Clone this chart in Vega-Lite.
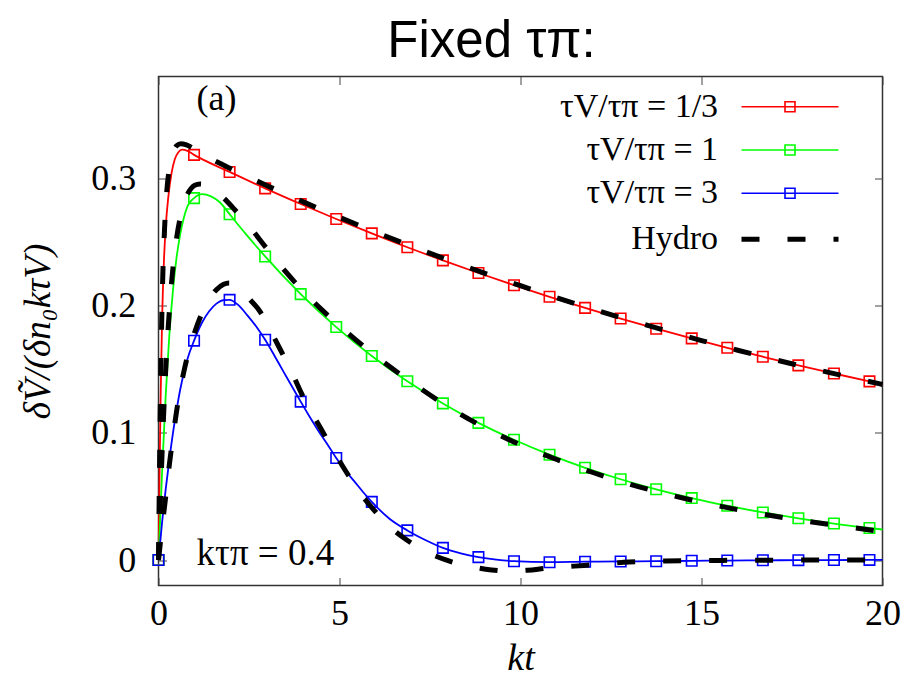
{
  "$schema": "https://vega.github.io/schema/vega-lite/v6.json",
  "width": 724,
  "height": 509,
  "autosize": {"type": "none"},
  "padding": {"left": 158.5, "top": 76.5, "right": 18.5, "bottom": 106.5},
  "title": {"text": "Fixed τπ:", "font": "Liberation Sans", "fontSize": 51, "fontWeight": "normal", "color": "black", "anchor": "middle", "baseline": "alphabetic", "offset": 14, "dx": -29, "dy": 46},
  "config": {
    "view": {"stroke": "#333333", "strokeWidth": 1.5},
    "axis": {"labelFont": "Liberation Serif", "labelFontSize": 36, "labelColor": "black", "titleFont": "Liberation Serif", "titleColor": "black", "titleFontWeight": "normal", "tickColor": "#444444", "tickWidth": 1, "domain": false, "grid": false, "labelFlush": false}
  },
  "datasets": {
    "model": [
      {"series": "τV/τπ = 1/3", "x": 0, "y": 0}, {"series": "τV/τπ = 1/3", "x": 0.03, "y": 0.07}, {"series": "τV/τπ = 1/3", "x": 0.06, "y": 0.13}, {"series": "τV/τπ = 1/3", "x": 0.1, "y": 0.19}, {"series": "τV/τπ = 1/3", "x": 0.15, "y": 0.235}, {"series": "τV/τπ = 1/3", "x": 0.2, "y": 0.262}, {"series": "τV/τπ = 1/3", "x": 0.27, "y": 0.285}, {"series": "τV/τπ = 1/3", "x": 0.36, "y": 0.304}, {"series": "τV/τπ = 1/3", "x": 0.45, "y": 0.315}, {"series": "τV/τπ = 1/3", "x": 0.55, "y": 0.3205}, {"series": "τV/τπ = 1/3", "x": 0.65, "y": 0.3225}, {"series": "τV/τπ = 1/3", "x": 0.8, "y": 0.3215}, {"series": "τV/τπ = 1/3", "x": 0.982, "y": 0.3184}, {"series": "τV/τπ = 1/3", "x": 1.964, "y": 0.305}, {"series": "τV/τπ = 1/3", "x": 2.946, "y": 0.2921}, {"series": "τV/τπ = 1/3", "x": 3.928, "y": 0.2798}, {"series": "τV/τπ = 1/3", "x": 4.91, "y": 0.268}, {"series": "τV/τπ = 1/3", "x": 5.892, "y": 0.2567}, {"series": "τV/τπ = 1/3", "x": 6.874, "y": 0.2458}, {"series": "τV/τπ = 1/3", "x": 7.856, "y": 0.2355}, {"series": "τV/τπ = 1/3", "x": 8.838, "y": 0.2256}, {"series": "τV/τπ = 1/3", "x": 9.82, "y": 0.216}, {"series": "τV/τπ = 1/3", "x": 10.802, "y": 0.2069}, {"series": "τV/τπ = 1/3", "x": 11.784, "y": 0.1982}, {"series": "τV/τπ = 1/3", "x": 12.766, "y": 0.1898}, {"series": "τV/τπ = 1/3", "x": 13.748, "y": 0.1818}, {"series": "τV/τπ = 1/3", "x": 14.73, "y": 0.1742}, {"series": "τV/τπ = 1/3", "x": 15.712, "y": 0.1668}, {"series": "τV/τπ = 1/3", "x": 16.694, "y": 0.1598}, {"series": "τV/τπ = 1/3", "x": 17.676, "y": 0.153}, {"series": "τV/τπ = 1/3", "x": 18.658, "y": 0.1466}, {"series": "τV/τπ = 1/3", "x": 19.64, "y": 0.1404}, {"series": "τV/τπ = 1/3", "x": 20, "y": 0.1382},
      {"series": "τV/τπ = 1", "x": 0, "y": 0}, {"series": "τV/τπ = 1", "x": 0.1, "y": 0.07}, {"series": "τV/τπ = 1", "x": 0.2, "y": 0.13}, {"series": "τV/τπ = 1", "x": 0.3, "y": 0.177}, {"series": "τV/τπ = 1", "x": 0.4, "y": 0.212}, {"series": "τV/τπ = 1", "x": 0.5, "y": 0.238}, {"series": "τV/τπ = 1", "x": 0.6, "y": 0.256}, {"series": "τV/τπ = 1", "x": 0.7, "y": 0.269}, {"series": "τV/τπ = 1", "x": 0.8, "y": 0.278}, {"series": "τV/τπ = 1", "x": 0.982, "y": 0.2844}, {"series": "τV/τπ = 1", "x": 1.2, "y": 0.2875}, {"series": "τV/τπ = 1", "x": 1.45, "y": 0.2858}, {"series": "τV/τπ = 1", "x": 1.7, "y": 0.281}, {"series": "τV/τπ = 1", "x": 1.964, "y": 0.2718}, {"series": "τV/τπ = 1", "x": 2.2, "y": 0.2635}, {"series": "τV/τπ = 1", "x": 2.45, "y": 0.2549}, {"series": "τV/τπ = 1", "x": 2.7, "y": 0.2466}, {"series": "τV/τπ = 1", "x": 2.946, "y": 0.2386}, {"series": "τV/τπ = 1", "x": 3.928, "y": 0.209}, {"series": "τV/τπ = 1", "x": 4.91, "y": 0.1831}, {"series": "τV/τπ = 1", "x": 5.892, "y": 0.1604}, {"series": "τV/τπ = 1", "x": 6.874, "y": 0.1405}, {"series": "τV/τπ = 1", "x": 7.856, "y": 0.1231}, {"series": "τV/τπ = 1", "x": 8.838, "y": 0.1078}, {"series": "τV/τπ = 1", "x": 9.82, "y": 0.0945}, {"series": "τV/τπ = 1", "x": 10.802, "y": 0.0828}, {"series": "τV/τπ = 1", "x": 11.784, "y": 0.0725}, {"series": "τV/τπ = 1", "x": 12.766, "y": 0.0635}, {"series": "τV/τπ = 1", "x": 13.748, "y": 0.0556}, {"series": "τV/τπ = 1", "x": 14.73, "y": 0.0487}, {"series": "τV/τπ = 1", "x": 15.712, "y": 0.0427}, {"series": "τV/τπ = 1", "x": 16.694, "y": 0.0374}, {"series": "τV/τπ = 1", "x": 17.676, "y": 0.0328}, {"series": "τV/τπ = 1", "x": 18.658, "y": 0.0287}, {"series": "τV/τπ = 1", "x": 19.64, "y": 0.0252}, {"series": "τV/τπ = 1", "x": 20, "y": 0.024},
      {"series": "τV/τπ = 3", "x": 0, "y": 0}, {"series": "τV/τπ = 3", "x": 0.1, "y": 0.03}, {"series": "τV/τπ = 3", "x": 0.2, "y": 0.056}, {"series": "τV/τπ = 3", "x": 0.3, "y": 0.079}, {"series": "τV/τπ = 3", "x": 0.4, "y": 0.1}, {"series": "τV/τπ = 3", "x": 0.5, "y": 0.118}, {"series": "τV/τπ = 3", "x": 0.6, "y": 0.134}, {"series": "τV/τπ = 3", "x": 0.7, "y": 0.147}, {"series": "τV/τπ = 3", "x": 0.8, "y": 0.158}, {"series": "τV/τπ = 3", "x": 0.982, "y": 0.1724}, {"series": "τV/τπ = 3", "x": 1.2, "y": 0.1865}, {"series": "τV/τπ = 3", "x": 1.4, "y": 0.1955}, {"series": "τV/τπ = 3", "x": 1.6, "y": 0.2015}, {"series": "τV/τπ = 3", "x": 1.8, "y": 0.2043}, {"series": "τV/τπ = 3", "x": 1.964, "y": 0.2045}, {"series": "τV/τπ = 3", "x": 2.2, "y": 0.2005}, {"series": "τV/τπ = 3", "x": 2.45, "y": 0.1925}, {"series": "τV/τπ = 3", "x": 2.7, "y": 0.1835}, {"series": "τV/τπ = 3", "x": 2.946, "y": 0.1731}, {"series": "τV/τπ = 3", "x": 3.2, "y": 0.1608}, {"series": "τV/τπ = 3", "x": 3.44, "y": 0.1487}, {"series": "τV/τπ = 3", "x": 3.7, "y": 0.1358}, {"series": "τV/τπ = 3", "x": 3.928, "y": 0.1245}, {"series": "τV/τπ = 3", "x": 4.2, "y": 0.1115}, {"series": "τV/τπ = 3", "x": 4.41, "y": 0.1018}, {"series": "τV/τπ = 3", "x": 4.7, "y": 0.0895}, {"series": "τV/τπ = 3", "x": 4.91, "y": 0.0802}, {"series": "τV/τπ = 3", "x": 5.2, "y": 0.069}, {"series": "τV/τπ = 3", "x": 5.4, "y": 0.0622}, {"series": "τV/τπ = 3", "x": 5.65, "y": 0.0535}, {"series": "τV/τπ = 3", "x": 5.892, "y": 0.0457}, {"series": "τV/τπ = 3", "x": 6.38, "y": 0.0325}, {"series": "τV/τπ = 3", "x": 6.874, "y": 0.0233}, {"series": "τV/τπ = 3", "x": 7.37, "y": 0.0158}, {"series": "τV/τπ = 3", "x": 7.856, "y": 0.0096}, {"series": "τV/τπ = 3", "x": 8.35, "y": 0.0053}, {"series": "τV/τπ = 3", "x": 8.838, "y": 0.0023}, {"series": "τV/τπ = 3", "x": 9.33, "y": 0.0003}, {"series": "τV/τπ = 3", "x": 9.82, "y": -0.0009}, {"series": "τV/τπ = 3", "x": 10.802, "y": -0.0017}, {"series": "τV/τπ = 3", "x": 11.784, "y": -0.0013}, {"series": "τV/τπ = 3", "x": 12.766, "y": -0.0011}, {"series": "τV/τπ = 3", "x": 13.748, "y": -0.0009}, {"series": "τV/τπ = 3", "x": 14.73, "y": -0.0006}, {"series": "τV/τπ = 3", "x": 15.712, "y": -0.0004}, {"series": "τV/τπ = 3", "x": 16.694, "y": -0.0002}, {"series": "τV/τπ = 3", "x": 17.676, "y": -0.0001}, {"series": "τV/τπ = 3", "x": 18.658, "y": 0}, {"series": "τV/τπ = 3", "x": 19.64, "y": 0.0001}, {"series": "τV/τπ = 3", "x": 20, "y": 0.0001}
    ],
    "markers": [
      {"series": "τV/τπ = 1/3", "x": 0, "y": 0}, {"series": "τV/τπ = 1/3", "x": 0.982, "y": 0.3184}, {"series": "τV/τπ = 1/3", "x": 1.964, "y": 0.305}, {"series": "τV/τπ = 1/3", "x": 2.946, "y": 0.2921}, {"series": "τV/τπ = 1/3", "x": 3.928, "y": 0.2798}, {"series": "τV/τπ = 1/3", "x": 4.91, "y": 0.268}, {"series": "τV/τπ = 1/3", "x": 5.892, "y": 0.2567}, {"series": "τV/τπ = 1/3", "x": 6.874, "y": 0.2458}, {"series": "τV/τπ = 1/3", "x": 7.856, "y": 0.2355}, {"series": "τV/τπ = 1/3", "x": 8.838, "y": 0.2256}, {"series": "τV/τπ = 1/3", "x": 9.82, "y": 0.216}, {"series": "τV/τπ = 1/3", "x": 10.802, "y": 0.2069}, {"series": "τV/τπ = 1/3", "x": 11.784, "y": 0.1982}, {"series": "τV/τπ = 1/3", "x": 12.766, "y": 0.1898}, {"series": "τV/τπ = 1/3", "x": 13.748, "y": 0.1818}, {"series": "τV/τπ = 1/3", "x": 14.73, "y": 0.1742}, {"series": "τV/τπ = 1/3", "x": 15.712, "y": 0.1668}, {"series": "τV/τπ = 1/3", "x": 16.694, "y": 0.1598}, {"series": "τV/τπ = 1/3", "x": 17.676, "y": 0.153}, {"series": "τV/τπ = 1/3", "x": 18.658, "y": 0.1466}, {"series": "τV/τπ = 1/3", "x": 19.64, "y": 0.1404},
      {"series": "τV/τπ = 1", "x": 0, "y": 0}, {"series": "τV/τπ = 1", "x": 0.982, "y": 0.2844}, {"series": "τV/τπ = 1", "x": 1.964, "y": 0.2718}, {"series": "τV/τπ = 1", "x": 2.946, "y": 0.2386}, {"series": "τV/τπ = 1", "x": 3.928, "y": 0.209}, {"series": "τV/τπ = 1", "x": 4.91, "y": 0.1831}, {"series": "τV/τπ = 1", "x": 5.892, "y": 0.1604}, {"series": "τV/τπ = 1", "x": 6.874, "y": 0.1405}, {"series": "τV/τπ = 1", "x": 7.856, "y": 0.1231}, {"series": "τV/τπ = 1", "x": 8.838, "y": 0.1078}, {"series": "τV/τπ = 1", "x": 9.82, "y": 0.0945}, {"series": "τV/τπ = 1", "x": 10.802, "y": 0.0828}, {"series": "τV/τπ = 1", "x": 11.784, "y": 0.0725}, {"series": "τV/τπ = 1", "x": 12.766, "y": 0.0635}, {"series": "τV/τπ = 1", "x": 13.748, "y": 0.0556}, {"series": "τV/τπ = 1", "x": 14.73, "y": 0.0487}, {"series": "τV/τπ = 1", "x": 15.712, "y": 0.0427}, {"series": "τV/τπ = 1", "x": 16.694, "y": 0.0374}, {"series": "τV/τπ = 1", "x": 17.676, "y": 0.0328}, {"series": "τV/τπ = 1", "x": 18.658, "y": 0.0287}, {"series": "τV/τπ = 1", "x": 19.64, "y": 0.0252},
      {"series": "τV/τπ = 3", "x": 0, "y": 0}, {"series": "τV/τπ = 3", "x": 0.982, "y": 0.1724}, {"series": "τV/τπ = 3", "x": 1.964, "y": 0.2045}, {"series": "τV/τπ = 3", "x": 2.946, "y": 0.1731}, {"series": "τV/τπ = 3", "x": 3.928, "y": 0.1245}, {"series": "τV/τπ = 3", "x": 4.91, "y": 0.0802}, {"series": "τV/τπ = 3", "x": 5.892, "y": 0.0457}, {"series": "τV/τπ = 3", "x": 6.874, "y": 0.0233}, {"series": "τV/τπ = 3", "x": 7.856, "y": 0.0096}, {"series": "τV/τπ = 3", "x": 8.838, "y": 0.0023}, {"series": "τV/τπ = 3", "x": 9.82, "y": -0.0009}, {"series": "τV/τπ = 3", "x": 10.802, "y": -0.0017}, {"series": "τV/τπ = 3", "x": 11.784, "y": -0.0013}, {"series": "τV/τπ = 3", "x": 12.766, "y": -0.0011}, {"series": "τV/τπ = 3", "x": 13.748, "y": -0.0009}, {"series": "τV/τπ = 3", "x": 14.73, "y": -0.0006}, {"series": "τV/τπ = 3", "x": 15.712, "y": -0.0004}, {"series": "τV/τπ = 3", "x": 16.694, "y": -0.0002}, {"series": "τV/τπ = 3", "x": 17.676, "y": -0.0001}, {"series": "τV/τπ = 3", "x": 18.658, "y": 0}, {"series": "τV/τπ = 3", "x": 19.64, "y": 0.0001}
    ],
    "hydro": [
      {"kind": "Hydro", "curve": "a", "x": 0, "y": 0}, {"kind": "Hydro", "curve": "a", "x": 0.04, "y": 0.1}, {"kind": "Hydro", "curve": "a", "x": 0.08, "y": 0.175}, {"kind": "Hydro", "curve": "a", "x": 0.12, "y": 0.225}, {"kind": "Hydro", "curve": "a", "x": 0.17, "y": 0.262}, {"kind": "Hydro", "curve": "a", "x": 0.23, "y": 0.29}, {"kind": "Hydro", "curve": "a", "x": 0.3, "y": 0.308}, {"kind": "Hydro", "curve": "a", "x": 0.4, "y": 0.32}, {"kind": "Hydro", "curve": "a", "x": 0.5, "y": 0.3255}, {"kind": "Hydro", "curve": "a", "x": 0.62, "y": 0.3272}, {"kind": "Hydro", "curve": "a", "x": 0.75, "y": 0.3265}, {"kind": "Hydro", "curve": "a", "x": 0.9, "y": 0.3245}, {"kind": "Hydro", "curve": "a", "x": 1.1, "y": 0.3208}, {"kind": "Hydro", "curve": "a", "x": 1.5, "y": 0.3145}, {"kind": "Hydro", "curve": "a", "x": 2, "y": 0.3075}, {"kind": "Hydro", "curve": "a", "x": 3, "y": 0.2942}, {"kind": "Hydro", "curve": "a", "x": 4, "y": 0.2815}, {"kind": "Hydro", "curve": "a", "x": 5, "y": 0.2693}, {"kind": "Hydro", "curve": "a", "x": 6, "y": 0.2577}, {"kind": "Hydro", "curve": "a", "x": 7, "y": 0.2465}, {"kind": "Hydro", "curve": "a", "x": 8, "y": 0.2358}, {"kind": "Hydro", "curve": "a", "x": 9, "y": 0.2255}, {"kind": "Hydro", "curve": "a", "x": 10, "y": 0.2156}, {"kind": "Hydro", "curve": "a", "x": 11, "y": 0.2062}, {"kind": "Hydro", "curve": "a", "x": 12, "y": 0.1972}, {"kind": "Hydro", "curve": "a", "x": 13, "y": 0.1886}, {"kind": "Hydro", "curve": "a", "x": 14, "y": 0.1804}, {"kind": "Hydro", "curve": "a", "x": 15, "y": 0.1725}, {"kind": "Hydro", "curve": "a", "x": 16, "y": 0.1649}, {"kind": "Hydro", "curve": "a", "x": 17, "y": 0.1577}, {"kind": "Hydro", "curve": "a", "x": 18, "y": 0.1508}, {"kind": "Hydro", "curve": "a", "x": 19, "y": 0.1443}, {"kind": "Hydro", "curve": "a", "x": 20, "y": 0.138},
      {"kind": "Hydro", "curve": "b", "x": 0, "y": 0}, {"kind": "Hydro", "curve": "b", "x": 0.1, "y": 0.085}, {"kind": "Hydro", "curve": "b", "x": 0.2, "y": 0.15}, {"kind": "Hydro", "curve": "b", "x": 0.3, "y": 0.196}, {"kind": "Hydro", "curve": "b", "x": 0.4, "y": 0.23}, {"kind": "Hydro", "curve": "b", "x": 0.5, "y": 0.253}, {"kind": "Hydro", "curve": "b", "x": 0.6, "y": 0.269}, {"kind": "Hydro", "curve": "b", "x": 0.7, "y": 0.28}, {"kind": "Hydro", "curve": "b", "x": 0.8, "y": 0.2875}, {"kind": "Hydro", "curve": "b", "x": 0.9, "y": 0.292}, {"kind": "Hydro", "curve": "b", "x": 1.0, "y": 0.2945}, {"kind": "Hydro", "curve": "b", "x": 1.15, "y": 0.2955}, {"kind": "Hydro", "curve": "b", "x": 1.3, "y": 0.2948}, {"kind": "Hydro", "curve": "b", "x": 1.5, "y": 0.2915}, {"kind": "Hydro", "curve": "b", "x": 1.8, "y": 0.2845}, {"kind": "Hydro", "curve": "b", "x": 2.1, "y": 0.2755}, {"kind": "Hydro", "curve": "b", "x": 2.5, "y": 0.2625}, {"kind": "Hydro", "curve": "b", "x": 3, "y": 0.2445}, {"kind": "Hydro", "curve": "b", "x": 3.5, "y": 0.227}, {"kind": "Hydro", "curve": "b", "x": 4, "y": 0.2112}, {"kind": "Hydro", "curve": "b", "x": 4.5, "y": 0.197}, {"kind": "Hydro", "curve": "b", "x": 5, "y": 0.1842}, {"kind": "Hydro", "curve": "b", "x": 6, "y": 0.1603}, {"kind": "Hydro", "curve": "b", "x": 7, "y": 0.1395}, {"kind": "Hydro", "curve": "b", "x": 8, "y": 0.1205}, {"kind": "Hydro", "curve": "b", "x": 9, "y": 0.1042}, {"kind": "Hydro", "curve": "b", "x": 10, "y": 0.0905}, {"kind": "Hydro", "curve": "b", "x": 11, "y": 0.079}, {"kind": "Hydro", "curve": "b", "x": 12, "y": 0.0688}, {"kind": "Hydro", "curve": "b", "x": 13, "y": 0.0598}, {"kind": "Hydro", "curve": "b", "x": 14, "y": 0.0521}, {"kind": "Hydro", "curve": "b", "x": 15, "y": 0.0454}, {"kind": "Hydro", "curve": "b", "x": 16, "y": 0.0396}, {"kind": "Hydro", "curve": "b", "x": 17, "y": 0.0346}, {"kind": "Hydro", "curve": "b", "x": 18, "y": 0.0302}, {"kind": "Hydro", "curve": "b", "x": 19, "y": 0.0262}, {"kind": "Hydro", "curve": "b", "x": 20, "y": 0.0223},
      {"kind": "Hydro", "curve": "c", "x": 0, "y": 0}, {"kind": "Hydro", "curve": "c", "x": 0.1, "y": 0.026}, {"kind": "Hydro", "curve": "c", "x": 0.2, "y": 0.05}, {"kind": "Hydro", "curve": "c", "x": 0.3, "y": 0.075}, {"kind": "Hydro", "curve": "c", "x": 0.4, "y": 0.097}, {"kind": "Hydro", "curve": "c", "x": 0.5, "y": 0.117}, {"kind": "Hydro", "curve": "c", "x": 0.6, "y": 0.134}, {"kind": "Hydro", "curve": "c", "x": 0.7, "y": 0.148}, {"kind": "Hydro", "curve": "c", "x": 0.8, "y": 0.16}, {"kind": "Hydro", "curve": "c", "x": 0.9, "y": 0.17}, {"kind": "Hydro", "curve": "c", "x": 1.0, "y": 0.179}, {"kind": "Hydro", "curve": "c", "x": 1.2, "y": 0.194}, {"kind": "Hydro", "curve": "c", "x": 1.4, "y": 0.205}, {"kind": "Hydro", "curve": "c", "x": 1.6, "y": 0.2125}, {"kind": "Hydro", "curve": "c", "x": 1.8, "y": 0.2168}, {"kind": "Hydro", "curve": "c", "x": 1.95, "y": 0.2178}, {"kind": "Hydro", "curve": "c", "x": 2.1, "y": 0.2168}, {"kind": "Hydro", "curve": "c", "x": 2.3, "y": 0.2125}, {"kind": "Hydro", "curve": "c", "x": 2.5, "y": 0.2055}, {"kind": "Hydro", "curve": "c", "x": 2.75, "y": 0.1975}, {"kind": "Hydro", "curve": "c", "x": 3.0, "y": 0.186}, {"kind": "Hydro", "curve": "c", "x": 3.2, "y": 0.1745}, {"kind": "Hydro", "curve": "c", "x": 3.4, "y": 0.1635}, {"kind": "Hydro", "curve": "c", "x": 3.7, "y": 0.1465}, {"kind": "Hydro", "curve": "c", "x": 3.95, "y": 0.131}, {"kind": "Hydro", "curve": "c", "x": 4.2, "y": 0.1175}, {"kind": "Hydro", "curve": "c", "x": 4.5, "y": 0.1025}, {"kind": "Hydro", "curve": "c", "x": 4.8, "y": 0.0875}, {"kind": "Hydro", "curve": "c", "x": 5.17, "y": 0.07}, {"kind": "Hydro", "curve": "c", "x": 5.5, "y": 0.0555}, {"kind": "Hydro", "curve": "c", "x": 5.9, "y": 0.041}, {"kind": "Hydro", "curve": "c", "x": 6.3, "y": 0.0285}, {"kind": "Hydro", "curve": "c", "x": 6.85, "y": 0.016}, {"kind": "Hydro", "curve": "c", "x": 7.4, "y": 0.0065}, {"kind": "Hydro", "curve": "c", "x": 8.0, "y": -0.0005}, {"kind": "Hydro", "curve": "c", "x": 8.6, "y": -0.005}, {"kind": "Hydro", "curve": "c", "x": 9.2, "y": -0.0078}, {"kind": "Hydro", "curve": "c", "x": 9.7, "y": -0.0088}, {"kind": "Hydro", "curve": "c", "x": 10.2, "y": -0.008}, {"kind": "Hydro", "curve": "c", "x": 10.7, "y": -0.0065}, {"kind": "Hydro", "curve": "c", "x": 11.2, "y": -0.0053}, {"kind": "Hydro", "curve": "c", "x": 11.75, "y": -0.0043}, {"kind": "Hydro", "curve": "c", "x": 12.4, "y": -0.0028}, {"kind": "Hydro", "curve": "c", "x": 13.0, "y": -0.0016}, {"kind": "Hydro", "curve": "c", "x": 14.0, "y": -0.0008}, {"kind": "Hydro", "curve": "c", "x": 15.0, "y": -0.0004}, {"kind": "Hydro", "curve": "c", "x": 16.0, "y": -0.0002}, {"kind": "Hydro", "curve": "c", "x": 17.0, "y": -0.0001}, {"kind": "Hydro", "curve": "c", "x": 18.0, "y": 0}, {"kind": "Hydro", "curve": "c", "x": 19.0, "y": 0.0001}, {"kind": "Hydro", "curve": "c", "x": 20.0, "y": 0.0001}
    ]
  },
  "resolve": {"axis": {"x": "independent", "y": "independent"}},
  "layer": [
    {
      "data": {"name": "model"},
      "mark": {"type": "line", "strokeWidth": 1.8, "interpolate": "monotone"},
      "encoding": {
        "x": {"field": "x", "type": "quantitative", "scale": {"domain": [0, 20], "nice": false, "zero": false},
              "axis": {"orient": "bottom", "values": [0, 5, 10, 15, 20], "title": "kt", "titleFontSize": 38, "titleFontStyle": "italic", "tickSize": -8, "labelPadding": 19, "titlePadding": 8}},
        "y": {"field": "y", "type": "quantitative", "scale": {"domain": [-0.02, 0.38], "nice": false, "zero": false},
              "axis": {"orient": "left", "values": [0, 0.1, 0.2, 0.3], "format": "~g", "title": "δṼ/(δn₀kτV)", "titleFontSize": 37, "titleFontStyle": "italic", "tickSize": -8, "labelPadding": 30.7, "titlePadding": 33}},
        "color": {"field": "series", "type": "nominal",
                  "scale": {"domain": ["τV/τπ = 1/3", "τV/τπ = 1", "τV/τπ = 3"], "range": ["#ff0000", "#00ff00", "#0000ff"]},
                  "legend": {"orient": "none", "legendX": 613.5, "legendY": 12.2, "title": null, "padding": 0,
                             "symbolType": "M-2.853,0H2.853M-0.294,-0.294H0.294V0.294H-0.294Z", "symbolSize": 1156, "symbolStrokeWidth": 1.6, "symbolFillColor": "transparent",
                             "rowPadding": 8.3, "labelAlign": "right", "labelBaseline": "middle", "labelOffset": -89.9,
                             "labelFont": "Liberation Serif", "labelFontSize": 34, "labelColor": "black", "labelLimit": 600}}
      }
    },
    {
      "data": {"name": "markers"},
      "mark": {"type": "point", "shape": "square", "filled": false, "size": 110, "strokeWidth": 1.6, "opacity": 1},
      "encoding": {
        "x": {"field": "x", "type": "quantitative", "scale": {"domain": [0, 20], "nice": false, "zero": false},
              "axis": {"orient": "top", "values": [0, 5, 10, 15, 20], "labels": false, "title": null, "tickSize": -8}},
        "y": {"field": "y", "type": "quantitative", "scale": {"domain": [-0.02, 0.38], "nice": false, "zero": false},
              "axis": {"orient": "right", "values": [0, 0.1, 0.2, 0.3], "labels": false, "title": null, "tickSize": -8}},
        "color": {"field": "series", "type": "nominal", "legend": null}
      }
    },
    {
      "data": {"name": "hydro"},
      "mark": {"type": "line", "color": "black", "strokeWidth": 5, "interpolate": "monotone", "strokeCap": "butt"},
      "encoding": {
        "x": {"field": "x", "type": "quantitative", "scale": {"domain": [0, 20], "nice": false, "zero": false}, "axis": null},
        "y": {"field": "y", "type": "quantitative", "scale": {"domain": [-0.02, 0.38], "nice": false, "zero": false}, "axis": null},
        "detail": {"field": "curve", "type": "nominal"},
        "strokeDash": {"field": "kind", "type": "nominal", "scale": {"domain": ["Hydro"], "range": [[18, 28]]},
                       "legend": {"orient": "none", "legendX": 612, "legendY": 143.3, "title": null, "padding": 0,
                                  "symbolType": "M-2.853,0H2.853", "symbolSize": 1156, "symbolStrokeWidth": 5, "symbolStrokeColor": "black",
                                  "labelAlign": "right", "labelBaseline": "middle", "labelOffset": -91.4,
                                  "labelFont": "Liberation Serif", "labelFontSize": 34, "labelColor": "black", "labelLimit": 600}}
      }
    },
    {
      "data": {"values": [{}]},
      "mark": {"type": "text", "text": "(a)", "font": "Liberation Serif", "fontSize": 36, "align": "left", "baseline": "alphabetic", "color": "black"},
      "encoding": {
        "x": {"datum": 1.05, "type": "quantitative", "scale": {"domain": [0, 20], "nice": false, "zero": false}, "axis": null},
        "y": {"datum": 0.354, "type": "quantitative", "scale": {"domain": [-0.02, 0.38], "nice": false, "zero": false}, "axis": null}
      }
    },
    {
      "data": {"values": [{}]},
      "mark": {"type": "text", "text": "kτπ = 0.4", "font": "Liberation Serif", "fontSize": 37, "align": "left", "baseline": "alphabetic", "color": "black"},
      "encoding": {
        "x": {"datum": 1.05, "type": "quantitative", "scale": {"domain": [0, 20], "nice": false, "zero": false}, "axis": null},
        "y": {"datum": -0.0035, "type": "quantitative", "scale": {"domain": [-0.02, 0.38], "nice": false, "zero": false}, "axis": null}
      }
    }
  ]
}
